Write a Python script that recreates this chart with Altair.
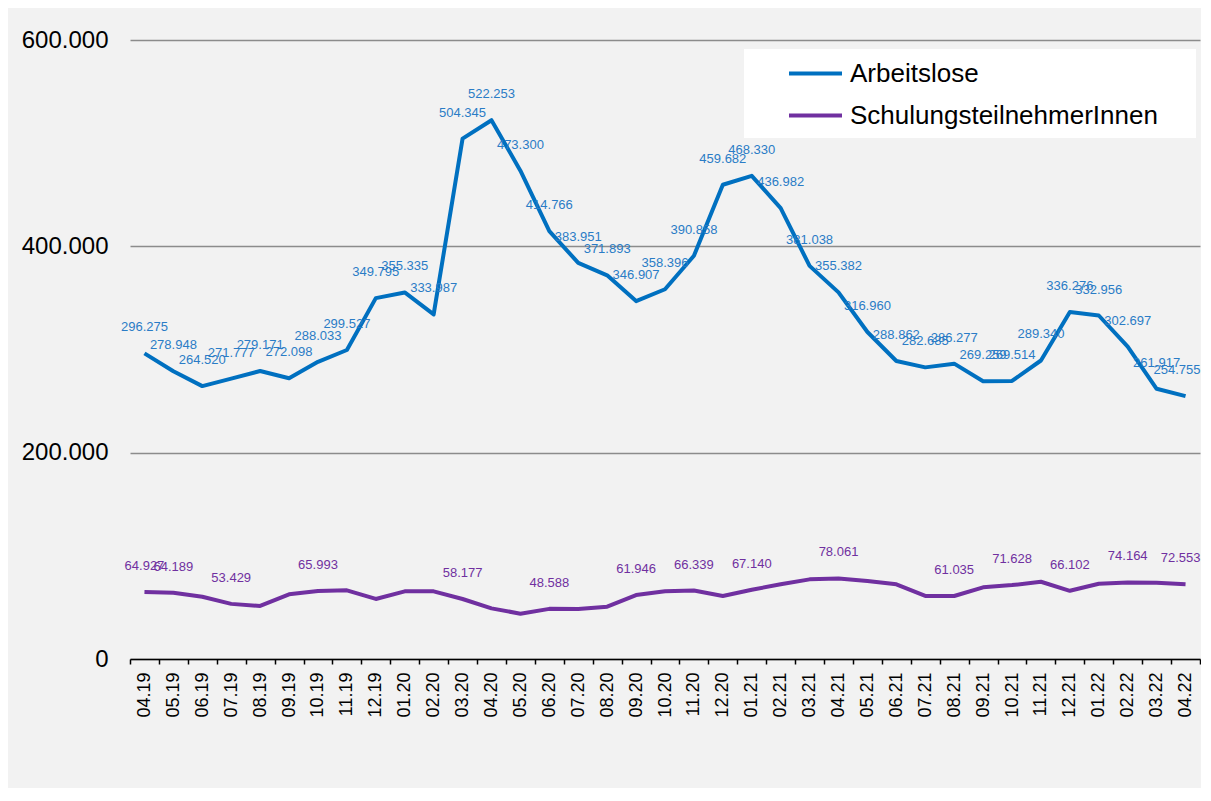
import altair as alt
import pandas as pd

months = ["04.19", "05.19", "06.19", "07.19", "08.19", "09.19", "10.19", "11.19", "12.19",
          "01.20", "02.20", "03.20", "04.20", "05.20", "06.20", "07.20", "08.20", "09.20",
          "10.20", "11.20", "12.20", "01.21", "02.21", "03.21", "04.21", "05.21", "06.21",
          "07.21", "08.21", "09.21", "10.21", "11.21", "12.21", "01.22", "02.22", "03.22", "04.22"]

arbeitslose = [296275, 278948, 264520, 271777, 279171, 272098, 288033, 299527, 349795,
               355335, 333987, 504345, 522253, 473300, 414766, 383951, 371893, 346907,
               358396, 390858, 459682, 468330, 436982, 381038, 355382, 316960, 288862,
               282685, 286277, 269259, 269514, 289340, 336276, 332956, 302697, 261917, 254755]

schulung = [64927, 64189, 60400, 53429, 51400, 62700, 65993, 66600, 58200,
            65600, 65600, 58177, 49100, 43900, 48588, 48500, 50700, 61946,
            65600, 66339, 61100, 67140, 72400, 77200, 78061, 75600, 72400,
            61100, 61035, 69500, 71628, 74900, 66102, 73000, 74164, 74000, 72553]

schulung_labeled = ["04.19", "05.19", "07.19", "10.19", "03.20", "06.20", "09.20", "11.20",
                    "01.21", "04.21", "08.21", "10.21", "12.21", "02.22", "04.22"]

series_names = ["Arbeitslose", "SchulungsteilnehmerInnen"]
line_colors = ["#0070C0", "#7030A0"]
label_colors = ["#2A7CC6", "#7030A0"]


def de(v):
    return f"{v:,}".replace(",", ".")


rows = []
for m, a, s in zip(months, arbeitslose, schulung):
    rows.append({"Monat": m, "Serie": series_names[0], "Wert": a, "Label": de(a)})
    rows.append({"Monat": m, "Serie": series_names[1], "Wert": s,
                 "Label": de(s) if m in schulung_labeled else ""})
df = pd.DataFrame(rows)
last_month = months[-1]

FONT = "Liberation Sans"

x = alt.X("Monat:O", sort=months,
          scale=alt.Scale(type="band", paddingInner=0, paddingOuter=0),
          axis=alt.Axis(title=None, labelAngle=-90, labelFontSize=18, labelFont=FONT,
                        labelColor="black", tickBand="extent", tickSize=5, tickColor="black",
                        tickWidth=1.5, domainColor="black", domainWidth=1.5, labelPadding=8,
                        grid=False))
y = alt.Y("Wert:Q", scale=alt.Scale(domain=[0, 600000], nice=False),
          axis=alt.Axis(title=None, values=[0, 200000, 400000, 600000],
                        labelExpr="replace(format(datum.value, ','), ',', '.')",
                        labelFontSize=24, labelFont=FONT, labelColor="black", labelPadding=22,
                        domain=False, ticks=False, gridColor="#8C8C8C", gridWidth=1.5))

# white legend box (decoration behind the legend)
legend_box = alt.Chart(pd.DataFrame({"k": [0]})).mark_rect(color="white").encode(
    x=alt.value(614), x2=alt.value(1066), y=alt.value(9), y2=alt.value(98)
)

lines = alt.Chart(df).mark_line(strokeWidth=4, strokeJoin="round").encode(
    x=x, y=y,
    color=alt.Color("Serie:N", sort=series_names,
                    scale=alt.Scale(domain=series_names, range=line_colors),
                    legend=alt.Legend(title=None, orient="none", legendX=657, legendY=5,
                                      symbolType="stroke", symbolSize=2809,
                                      symbolStrokeWidth=4, labelFontSize=26, labelFont=FONT,
                                      labelColor="black", padding=0,
                                      labelOffset=6, rowPadding=-10, labelLimit=400)),
    detail="Serie:N",
)

fill = alt.Fill("Serie:N", scale=alt.Scale(domain=series_names, range=label_colors),
                legend=None)

labels = alt.Chart(df).transform_filter(
    alt.datum.Monat != last_month
).mark_text(dy=-26, fontSize=13, font=FONT).encode(
    x=x, y=y, text="Label:N", fill=fill,
)

labels_last = alt.Chart(df).transform_filter(
    alt.datum.Monat == last_month
).mark_text(dy=-26, dx=15, align="right", fontSize=13, font=FONT).encode(
    x=x, y=y, text="Label:N", fill=fill,
)

chart = (legend_box + lines + labels + labels_last).properties(
    width=1070, height=619,
    padding={"left": 13, "top": 20, "right": 0, "bottom": 70},
).configure(background="#F2F2F2").configure_view(stroke=None)

chart.save("out.html", embed_options={"renderer": "svg", "actions": False})
